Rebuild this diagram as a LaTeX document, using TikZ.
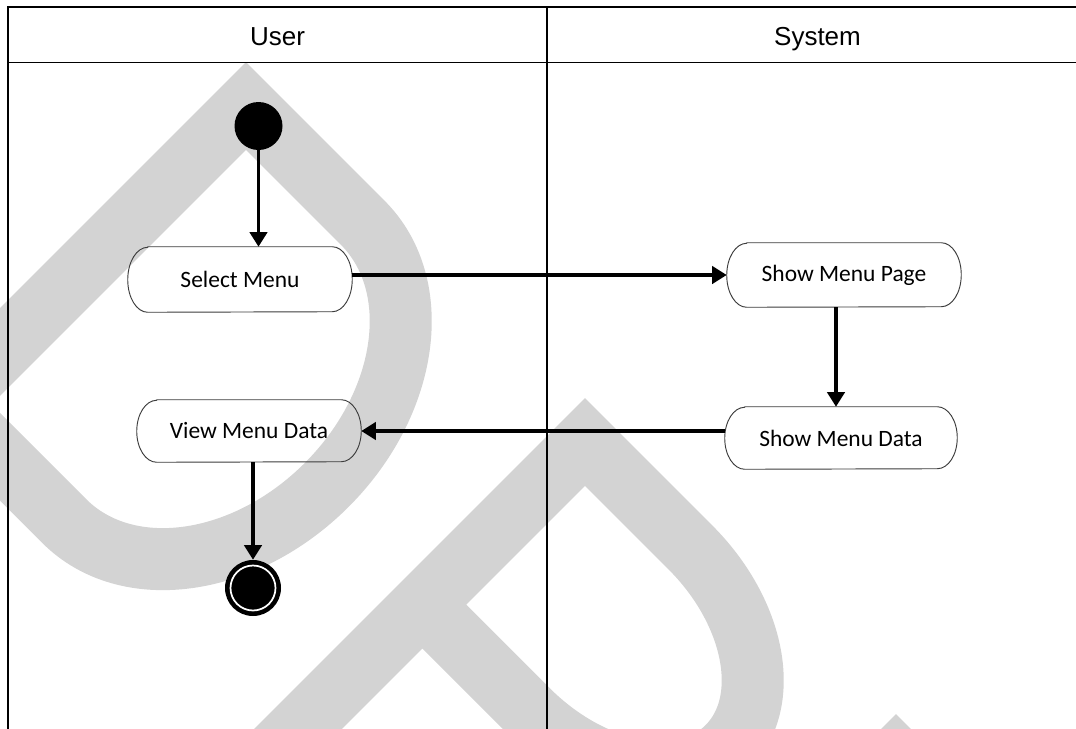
\documentclass[tikz,border=0pt]{standalone}
\usepackage{fontspec}
\setmainfont{Carlito}
\newfontfamily\headfont{Liberation Sans}
\usetikzlibrary{arrows.meta,calc}
\definecolor{wmgrey}{RGB}{211,211,211}
\definecolor{outline}{RGB}{60,60,60}
\begin{document}
\begin{tikzpicture}[x=0.75pt,y=-0.75pt,
  lane/.style={draw=black,line width=1.1pt},
  wmark/.style={draw=wmgrey,line width=46.5pt,line join=miter,miter limit=4},
  action/.style={inner sep=0pt,font=\fontsize{17.6}{21}\selectfont},
  boxline/.style={draw=outline,line width=0.7pt},
  flow/.style={draw=black,line width=2.6pt,-{Triangle[length=11pt,width=13pt]}},
  startdot/.style={circle,fill=black,inner sep=0pt,minimum size=36pt},
  enddot/.style={circle,fill=black,inner sep=0pt,minimum size=42pt},
  lanetitle/.style={font=\headfont\fontsize{19.5}{22}\selectfont,anchor=base,inner sep=0pt},
]
\useasboundingbox (0,0) rectangle (1076,729);
\fill[white] (0,0) rectangle (1076,729);
\clip (0,0) rectangle (1076,729);

% large diagonal lettering in the background
\begin{scope}
  \clip (0,63) rectangle (1076,729);
  \begin{scope}[cm={0.7071,-0.7071,-0.7071,-0.7071,(246,106)}]
    \draw[wmark] (0,-422) -- (0,0) -- (165,0)
      arc[start angle=90,end angle=-90,x radius=160,y radius=211] -- cycle;
  \end{scope}
  \begin{scope}[cm={0.7071,-0.7071,-0.7071,-0.7071,(585,442)}]
    \draw[wmark] (0,-460) -- (0,0) -- (149,0)
      arc[start angle=90,end angle=-90,x radius=167.5,y radius=115] -- (0,-230);
  \end{scope}
  \begin{scope}[cm={0.7071,-0.7071,-0.7071,-0.7071,(896,758)}]
    \draw[wmark] (0,-200) -- (0,0) -- (200,0);
  \end{scope}
\end{scope}

% swimlane frame
\draw[lane] (8,740) -- (8,7) -- (1090,7);
\draw[lane] (8,62.5) -- (1090,62.5);
\draw[lane] (547,7) -- (547,740);
\node[lanetitle] (usertitle) at (277.5,45) {User};
\node[lanetitle] (systitle) at (817.5,45) {System};

% actions
\node[action,minimum width=168pt,minimum height=48.75pt] (sel) at (240,279.5) {Select Menu};
\node[action,minimum width=168pt,minimum height=46.5pt] (vmd) at (249,431) {View Menu Data};
\node[action,minimum width=175.5pt,minimum height=48pt] (smp) at (844,275) {Show Menu Page};
\node[action,minimum width=174pt,minimum height=46.5pt] (smd) at (841,438) {Show Menu Data};
\foreach \n/\r in {sel/32.5,vmd/31,smp/32,smd/31}
  \draw[boxline] ($(\n.north west)+(20,0)$) -- ($(\n.north east)+(-20,0)$)
     arc[start angle=-90,end angle=90,x radius=20,y radius=\r]
     -- ($(\n.south west)+(20,0)$)
     arc[start angle=90,end angle=270,x radius=20,y radius=\r] -- cycle;

% initial and final states
\node[startdot] (start) at (258.5,126) {};
\node[enddot] (stop) at (253,588) {};
\draw[white,line width=1.3pt] (stop.center) circle[radius=22.5];

% control flow
\draw[flow] (start) -- (start |- sel.north);
\draw[flow] (sel.east |- smp.west) -- (smp.west);
\draw[flow] ([xshift=-6pt]smp.south) -- ([xshift=-6pt]smp.south |- smd.north);
\draw[flow] (smd.west |- vmd.east) -- (vmd.east);
\draw[flow] (vmd.south -| stop.north) -- (stop.north);
\end{tikzpicture}
\end{document}
